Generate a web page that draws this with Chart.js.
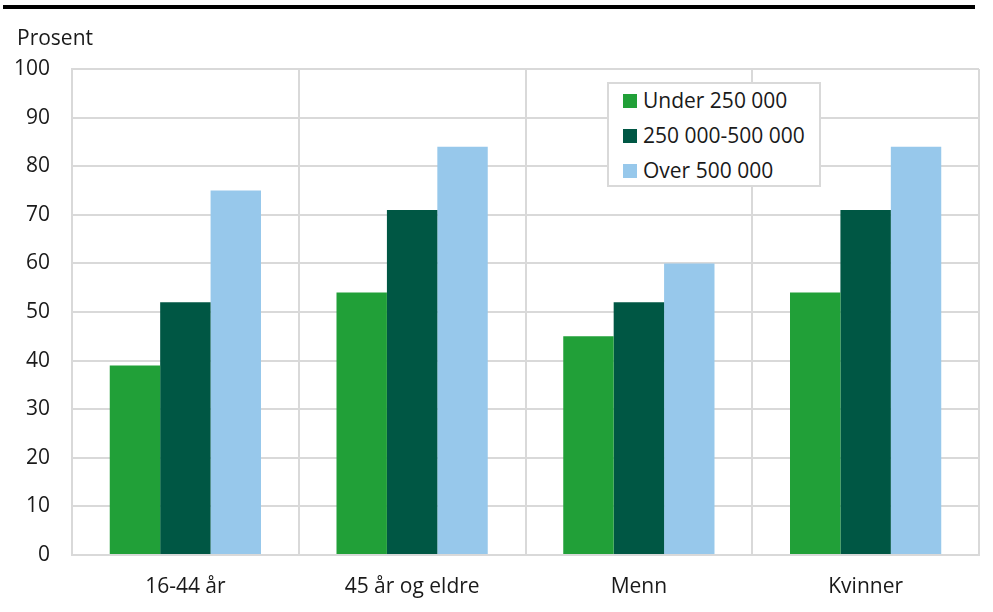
<!DOCTYPE html>
<html>
<head>
<meta charset="utf-8">
<script src="https://cdn.jsdelivr.net/npm/chart.js@4"></script>
<style>
  html, body { margin: 0; padding: 0; background: #fff; }
  #wrap { position: relative; width: 993px; height: 612px; font-family: "Open Sans", sans-serif; }
  #topline { position: absolute; left: 3px; top: 5px; width: 972px; height: 4px; background: #000; }
  #unit { position: absolute; left: 17px; top: 23px; font-size: 21px; color: #1a1a1a; }
  #legend { position: absolute; left: 607px; top: 82px; width: 210px; height: 101px; border: 2px solid #d9d9d9; background: #fff; box-sizing: content-box; }
  .item { position: absolute; left: 14px; font-size: 21px; color: #1a1a1a; line-height: 24px; white-space: nowrap; }
  .sw { display: inline-block; width: 14px; height: 14px; margin-right: 6px; vertical-align: 0px; }
</style>
</head>
<body>
<div id="wrap">
  <div id="topline"></div>
  <div id="unit">Prosent</div>
  <canvas id="c" width="993" height="612"></canvas>
  <div id="legend"></div>
</div>
<script>
const categories = ['16-44 år', '45 år og eldre', 'Menn', 'Kvinner'];
const seriesNames = ['Under 250 000', '250 000-500 000', 'Over 500 000'];
const under250 = [39, 54, 45, 54];
const mid250to500 = [52, 71, 52, 71];
const over500 = [75, 84, 60, 84];
const colors = ['#21a038', '#005744', '#97c8eb'];

const legend = document.getElementById('legend');
seriesNames.forEach((name, i) => {
    const d = document.createElement('div');
    d.className = 'item';
    d.style.top = (4 + i * 35) + 'px';
    d.innerHTML = '<span class="sw" style="background:' + colors[i] + '"></span>' + name;
    legend.appendChild(d);
});

const ctx = document.getElementById('c').getContext('2d');
new Chart(ctx, {
    type: 'bar',
    data: {
        labels: categories,
        datasets: [under250, mid250to500, over500].map((data, i) => ({
            label: seriesNames[i],
            data: data,
            backgroundColor: colors[i],
            barPercentage: 1,
            categoryPercentage: 0.667
        }))
    },
    options: {
        responsive: false,
        animation: false,
        layout: { padding: { left: 0, right: 14, top: 69, bottom: 0 } },
        plugins: { legend: { display: false }, tooltip: { enabled: false } },
        scales: {
            x: {
                grid: { color: '#d9d9d9', lineWidth: 2, drawTicks: false },
                border: { color: '#d9d9d9', width: 2 },
                ticks: { color: '#1a1a1a', font: { family: 'Open Sans', size: 21 }, padding: 19 },
                afterFit: s => { s.height = 57; }
            },
            y: {
                min: 0, max: 100,
                grid: { color: '#d9d9d9', lineWidth: 2, drawTicks: false },
                border: { color: '#d9d9d9', width: 2 },
                ticks: { stepSize: 10, color: '#1a1a1a', font: { family: 'Open Sans', size: 21 }, padding: 22 },
                afterFit: s => { s.width = 72; }
            }
        }
    }
});
</script>
</body>
</html>
